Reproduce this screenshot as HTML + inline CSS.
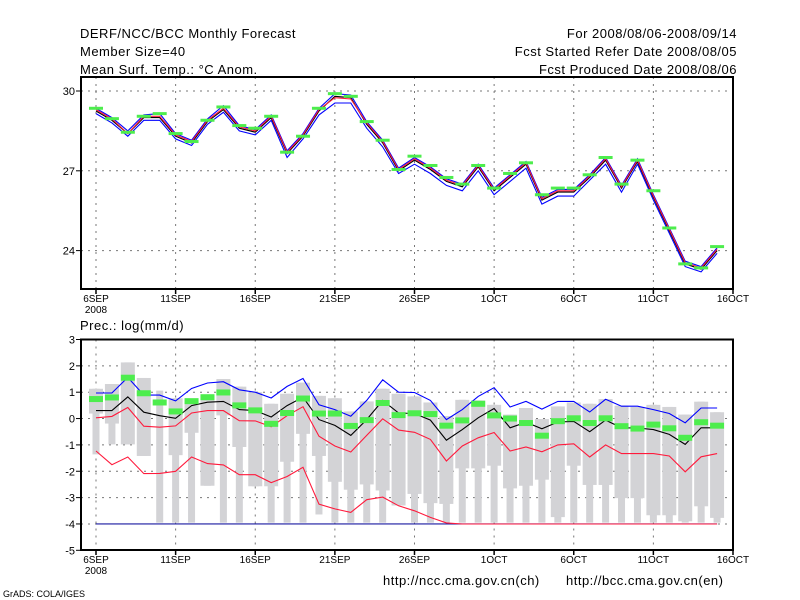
<!DOCTYPE html>
<html><head><meta charset="utf-8"><style>
html,body{margin:0;padding:0;background:#fff}
svg{display:block;font-family:"Liberation Sans",sans-serif}
.hd{font-size:13px;letter-spacing:0.5px}
</style></head><body>
<svg id="c" width="800" height="600" viewBox="0 0 800 600" xmlns="http://www.w3.org/2000/svg">
<text class="hd" x="80" y="38">DERF/NCC/BCC Monthly Forecast</text>
<text class="hd" x="80" y="56">Member Size=40</text>
<text class="hd" x="80" y="74">Mean Surf. Temp.: °C Anom.</text>
<text class="hd" x="737" y="38" text-anchor="end">For 2008/08/06-2008/09/14</text>
<text class="hd" x="737" y="56" text-anchor="end">Fcst Started Refer Date 2008/08/05</text>
<text class="hd" x="737" y="74" text-anchor="end">Fcst Produced Date 2008/08/06</text>
<text class="hd" x="80" y="330">Prec.: log(mm/d)</text>
<text class="hd" x="383" y="585">http://ncc.cma.gov.cn(ch)</text>
<text class="hd" x="566" y="585">http://bcc.cma.gov.cn(en)</text>
<text x="3" y="597" font-size="9">GrADS: COLA/IGES</text>
<g id="g"></g>
</svg>
<script>
const xLabels=["6SEP","11SEP","16SEP","21SEP","26SEP","1OCT","6OCT","11OCT","16OCT"];
const tMean=[29.25,28.9,28.4,29.0,29.0,28.3,28.05,28.85,29.3,28.6,28.45,29.0,27.65,28.3,29.25,29.8,29.75,28.75,28.05,27.0,27.4,27.05,26.6,26.4,27.15,26.25,26.75,27.25,25.9,26.2,26.2,26.75,27.4,26.35,27.35,26.0,24.75,23.5,23.3,24.0];
const tRed=[29.3,28.95,28.4,29.05,29.05,28.35,28.1,28.9,29.35,28.65,28.5,29.05,27.7,28.35,29.3,29.75,29.7,28.8,28.1,27.05,27.45,27.1,26.65,26.45,27.2,26.3,26.8,27.3,25.95,26.25,26.25,26.8,27.45,26.4,27.4,26.05,24.8,23.55,23.35,24.05];
const tHi=[29.35,29.0,28.5,29.1,29.15,28.4,28.15,28.95,29.45,28.7,28.55,29.1,27.75,28.4,29.35,29.9,29.85,28.85,28.15,27.1,27.5,27.15,26.7,26.5,27.25,26.35,26.85,27.35,26.0,26.3,26.3,26.85,27.5,26.45,27.45,26.1,24.85,23.6,23.4,24.1];
const tLo=[29.15,28.8,28.3,28.9,28.9,28.2,27.95,28.75,29.2,28.5,28.35,28.9,27.5,28.2,29.1,29.55,29.55,28.6,27.9,26.9,27.25,26.9,26.45,26.25,27.0,26.1,26.6,27.1,25.75,26.05,26.05,26.65,27.25,26.2,27.25,25.9,24.65,23.4,23.2,23.9];
const tObs=[29.35,28.96,28.45,29.05,29.15,28.4,28.1,28.9,29.4,28.7,28.6,29.05,27.7,28.3,29.35,29.9,29.8,28.85,28.15,27.05,27.55,27.2,26.75,26.5,27.2,26.35,26.9,27.3,26.1,26.35,26.35,26.85,27.5,26.5,27.4,26.25,24.85,23.5,23.35,24.15];
const tTicks=[30,27,24];
const pMax=[1.13,1.31,2.13,1.54,1.06,0.77,0.71,0.86,1.5,1.21,1.0,0.56,0.94,1.36,0.86,0.77,0.27,0.65,1.13,0.94,0.84,0.61,0.09,0.71,0.69,0.52,0.15,0.4,-0.02,0.46,0.61,0.56,0.74,0.49,0.44,0.52,0.44,0.15,0.64,0.24];
const pQ=[0.19,-0.19,-0.98,-1.42,1.06,-1.39,-0.54,-2.55,0.12,-1.08,-2.57,-2.57,-1.64,-0.58,-1.42,-2.4,-2.7,-2.5,-2.73,-3.3,-2.86,-3.21,-3.24,-1.89,-1.89,-1.79,-2.65,-2.55,-2.32,-3.74,-1.79,-2.52,-2.52,-3.02,-3.02,-3.67,-3.67,-3.9,-3.33,-3.77];
const pMin=[-1.36,-0.98,-0.98,-1.42,-3.95,-3.95,-3.95,-2.55,-3.95,-3.95,-2.57,-3.95,-3.95,-3.95,-3.64,-3.95,-3.95,-3.95,-3.95,-3.3,-3.95,-3.95,-3.95,-3.95,-3.95,-3.95,-3.95,-3.95,-3.95,-3.95,-3.95,-3.95,-3.95,-3.95,-3.95,-3.95,-3.95,-3.95,-3.95,-3.95];
const pMean=[0.30,0.30,0.82,0.24,0.11,0.01,0.49,0.62,0.65,0.34,0.30,0.06,0.49,0.81,-0.04,-0.26,-0.64,-0.04,0.69,0.21,0.19,-0.06,-0.82,-0.42,0.03,0.38,-0.35,-0.14,-0.39,-0.13,-0.11,-0.5,-0.06,-0.35,-0.36,-0.42,-0.6,-0.98,-0.35,-0.35];
const pBlue=[0.97,0.97,1.56,0.89,0.89,0.67,1.14,1.35,1.4,1.09,1.0,0.78,1.22,1.52,0.52,0.34,0.09,0.69,1.47,1.0,0.99,0.69,-0.04,0.34,0.84,1.17,0.44,0.65,0.36,0.65,0.65,0.25,0.73,0.47,0.47,0.34,0.19,-0.16,0.40,0.40];
const pRedHi=[0.03,0.08,0.42,-0.29,-0.33,-0.28,0.21,0.30,0.30,-0.08,-0.09,-0.31,0.11,0.45,-0.67,-1.04,-1.27,-0.64,-0.01,-0.44,-0.52,-0.79,-1.61,-1.04,-0.73,-0.53,-1.23,-1.08,-1.26,-1.0,-0.96,-1.46,-1.0,-1.33,-1.33,-1.33,-1.42,-2.02,-1.45,-1.33];
const pRedLo=[-1.23,-1.75,-1.46,-2.09,-2.08,-2.0,-1.46,-1.71,-1.76,-2.13,-2.13,-2.43,-2.2,-1.85,-3.25,-3.43,-3.56,-3.08,-2.98,-3.31,-3.5,-3.75,-3.96,-4,-4,-4,-4,-4,-4,-4,-4,-4,-4,-4,-4,-4,-4,-4,-4,-4];
const pObs=[0.74,0.8,1.55,0.96,0.61,0.27,0.66,0.81,0.99,0.5,0.31,-0.2,0.21,0.76,0.19,0.19,-0.28,-0.06,0.59,0.13,0.2,0.17,-0.27,-0.07,0.56,0.12,0.0,-0.17,-0.65,-0.1,0.01,-0.17,0.01,-0.29,-0.38,-0.23,-0.37,-0.73,-0.14,-0.27];
const pTicks=[3,2,1,0,-1,-2,-3,-4,-5];

const NS="http://www.w3.org/2000/svg", G=document.getElementById('g');
const L=81,R=733;
const X=d=>96+d*15.925;
const Yt=v=>91+(30-v)*26.6;
const Yp=v=>339.5+(3-v)*26.35;
function mk(t,a,p){const e=document.createElementNS(NS,t);for(const k in a)e.setAttribute(k,a[k]);(p||G).appendChild(e);return e;}
function line(arr,Y,col,name){
  const e=mk('polyline',{points:arr.map((v,i)=>X(i).toFixed(1)+','+Y(v).toFixed(1)).join(' '),fill:'none',stroke:col,'stroke-width':1.1});
  
  
}
function grid(top,bot,Y,ticks,name){
  for(let k=0;k<xLabels.length-1;k++){const x=X(k*5);
    const g=mk('line',{x1:x,x2:x,y1:top,y2:bot,stroke:'#777','stroke-dasharray':'2,5'});
    
    }
  ticks.forEach(t=>{const y=Y(t);
    const g=mk('line',{x1:L,x2:R,y1:y,y2:y,stroke:'#777','stroke-dasharray':'2,5'});
    
    
    mk('line',{x1:L-5,x2:L,y1:y,y2:y,stroke:'#000'});
    const tx=mk('text',{x:L-6,y:y+4,'font-size':11,'text-anchor':'end'});tx.textContent=t;
    
    });
  xLabels.forEach((s,k)=>{const x=X(k*5);
    mk('line',{x1:x,x2:x,y1:bot,y2:bot+5,stroke:'#000','stroke-width':1.5});
    const tx=mk('text',{x:x,y:bot+13,'font-size':10,'text-anchor':'middle'});tx.textContent=s;
    
    
    if(k===0){const y2=mk('text',{x:x,y:bot+24,'font-size':10,'text-anchor':'middle'});y2.textContent='2008';
      
      }
  });
  const b=mk('rect',{x:L,y:top,width:R-L,height:bot-top,fill:'none',stroke:'#000','stroke-width':2});
  
  
}
// top panel
grid(77,289,Yt,tTicks,'temp');
line(tHi,Yt,'#0000ff','temp-upper-line');
line(tLo,Yt,'#0000ff','temp-lower-line');
line(tMean,Yt,'#000','temp-mean-line');
line(tRed,Yt,'#ff1a3c','temp-red-line');
tObs.forEach((v,i)=>{const r=mk('rect',{x:X(i)-7,y:Yt(v)-1.5,width:14,height:3,fill:'#4ded4d'});
  
  });
// bottom panel
grid(339.5,550,Yp,pTicks.slice(1,8),'precip');
[3,-5].forEach(t=>{const y=Yp(t);mk('line',{x1:L-5,x2:L,y1:y,y2:y,stroke:'#000'});
  const tx=mk('text',{x:L-6,y:y+4,'font-size':11,'text-anchor':'end'});tx.textContent=t;
  
  });
pMax.forEach((v,i)=>{
  const n=mk('rect',{x:X(i)-3.5,y:Yp(v),width:7,height:Yp(pMin[i])-Yp(v),fill:'#d3d3d6'});
  
  
  const w=mk('rect',{x:X(i)-7,y:Yp(v),width:14,height:Math.max(0,Yp(pQ[i])-Yp(v)),fill:'#d3d3d6'});
  
  
});
const base=mk('line',{x1:X(0),x2:X(39),y1:Yp(-4),y2:Yp(-4),stroke:'#1a1aa0','stroke-width':1.2});


line(pBlue,Yp,'#0000ff','precip-upper-line');
line(pRedHi,Yp,'#ff1a3c','precip-red-upper-line');
line(pRedLo,Yp,'#ff1a3c','precip-red-lower-line');
line(pMean,Yp,'#000','precip-mean-line');
pObs.forEach((v,i)=>{const r=mk('rect',{x:X(i)-7,y:Yp(v)-3,width:14,height:6,fill:'#4ded4d'});
  
  });
</script>
</body></html>
